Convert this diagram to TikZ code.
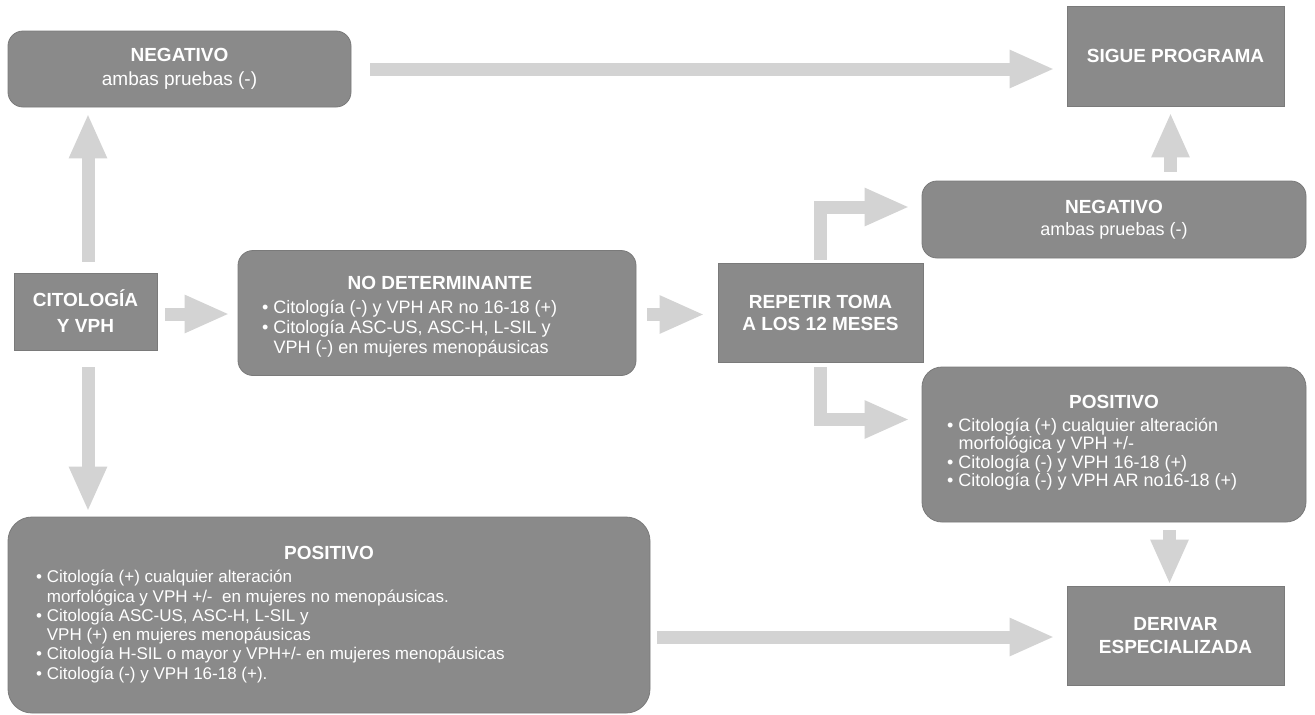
\documentclass[tikz,border=0pt]{standalone}
\usepackage{fontspec}
\setmainfont{Liberation Sans}
\usetikzlibrary{arrows.meta}
\definecolor{boxgray}{HTML}{8A8A8A}
\definecolor{boxedge}{HTML}{7A7A7A}
\definecolor{arrgray}{HTML}{D3D3D3}
\begin{document}
\begin{tikzpicture}[x=1pt,y=-1pt,
  sq/.style={rectangle, fill=boxgray, draw=boxedge, line width=0.8pt, inner sep=0pt,
    text=white, align=center, font=\fontsize{19}{24}\selectfont\bfseries},
  rd/.style={sq, rounded corners=15pt},
  ttl/.style={inner sep=0pt, text=white, font=\fontsize{19}{22}\selectfont\bfseries},
  body/.style={inner sep=0pt, text=white, align=left, anchor=north west},
  arr/.style={draw=arrgray, line width=13pt, line join=miter,
    -{Triangle[length=45pt,width=35pt]}}]
\useasboundingbox (0,0) rectangle (1315,715);

% boxes
\node[rd, minimum width=343pt, minimum height=76pt] (neg1) at (179.5,69)
  {NEGATIVO\\{\mdseries ambas pruebas (-)}};
\node[sq, minimum width=217pt, minimum height=100pt] (sigue) at (1175.5,56)
  {SIGUE PROGRAMA};
\node[sq, minimum width=143pt, minimum height=77pt,
  font=\fontsize{19}{26}\selectfont\bfseries] (cit) at (85.5,311.5)
  {CITOLOGÍA\\Y VPH};
\node[rd, minimum width=398pt, minimum height=125pt] (nodet) at (437,313) {};
\node[sq, minimum width=205pt, minimum height=99pt,
  font=\fontsize{19}{22}\selectfont\bfseries] (rep) at (820.5,312.5)
  {REPETIR TOMA\\A LOS 12 MESES};
\node[rd, minimum width=384pt, minimum height=77pt,
  font=\fontsize{19}{22}\selectfont\bfseries] (neg2) at (1114,219.5)
  {NEGATIVO\\{\mdseries\fontsize{18}{22}\selectfont ambas pruebas (-)}};
\node[rd, minimum width=384pt, minimum height=155pt, rounded corners=20pt] (pos2) at (1114,444.5) {};
\node[rd, minimum width=642pt, minimum height=196pt, rounded corners=24pt] (pos1) at (329,615) {};
\node[sq, minimum width=217pt, minimum height=99pt,
  font=\fontsize{19}{23}\selectfont\bfseries] (der) at (1175.5,635.5)
  {DERIVAR\\ESPECIALIZADA};

% texts of list boxes
\node[ttl] (nodetT) at (440,283) {NO DETERMINANTE};
\node[body, font=\fontsize{18}{20}\selectfont] (nodetB) at (262,300)
  {\textbullet\ Citología (-) y VPH AR no 16-18 (+)\\
   \textbullet\ Citología ASC-US, ASC-H, L-SIL y\\
   \phantom{\textbullet\ }VPH (-) en mujeres menopáusicas};

\node[ttl] (pos2T) at (1114,402) {POSITIVO};
\node[body, font=\fontsize{18}{18.5}\selectfont] (pos2B) at (947,418)
  {\textbullet\ Citología (+) cualquier alteración\\
   \phantom{\textbullet\ }morfológica y VPH +/-\\
   \textbullet\ Citología (-) y VPH 16-18 (+)\\
   \textbullet\ Citología (-) y VPH AR no16-18 (+)};

\node[ttl] (pos1T) at (329,553) {POSITIVO};
\node[body, font=\fontsize{17}{19.3}\selectfont] (pos1B) at (36,570)
  {\textbullet\ Citología (+) cualquier alteración\\
   \phantom{\textbullet\ }morfológica y VPH +/-\ \ en mujeres no menopáusicas.\\
   \textbullet\ Citología ASC-US, ASC-H, L-SIL y\\
   \phantom{\textbullet\ }VPH (+) en mujeres menopáusicas\\
   \textbullet\ Citología H-SIL o mayor y VPH+/- en mujeres menopáusicas\\
   \textbullet\ Citología (-) y VPH 16-18 (+).};

% arrows
\draw[arr, shorten <=19pt, shorten >=12pt] (neg1.east) -- (neg1.east -| sigue.west);
\draw[arr, shorten <=11pt, shorten >=6pt] ([xshift=2.5pt]cit.north) -- ([xshift=2.5pt]cit.north |- neg1.south);
\draw[arr, shorten <=17pt, shorten >=5pt] ([xshift=2.5pt]cit.south) -- ([xshift=2.5pt]cit.south |- pos1.north);
\draw[arr, shorten <=8pt, shorten >=8pt] ([yshift=-2.5pt]cit.east) -- ([yshift=-2.5pt]cit.east -| nodet.west);
\draw[arr, shorten <=11pt, shorten >=13pt] ([yshift=-1.5pt]nodet.east) -- ([yshift=-1.5pt]nodet.east -| rep.west);
\draw[arr, shorten <=3pt, shorten >=12pt] (rep.north) |- ([yshift=12.5pt]neg2.west);
\draw[arr, shorten <=5pt, shorten >=12pt] (rep.south) |- ([yshift=25pt]pos2.west);
\draw[arr, shorten <=9pt, shorten >=6pt] ([xshift=-5pt]sigue.south |- neg2.north) -- ([xshift=-5pt]sigue.south);
\draw[arr, shorten <=8pt, shorten >=1pt] ([xshift=-6pt]der.north |- pos2.south) -- ([xshift=-6pt]der.north);
\draw[arr, shorten <=7pt, shorten >=12pt] ([yshift=-22pt]pos1.east) -- ([yshift=-22pt]pos1.east -| der.west);
\end{tikzpicture}
\end{document}
